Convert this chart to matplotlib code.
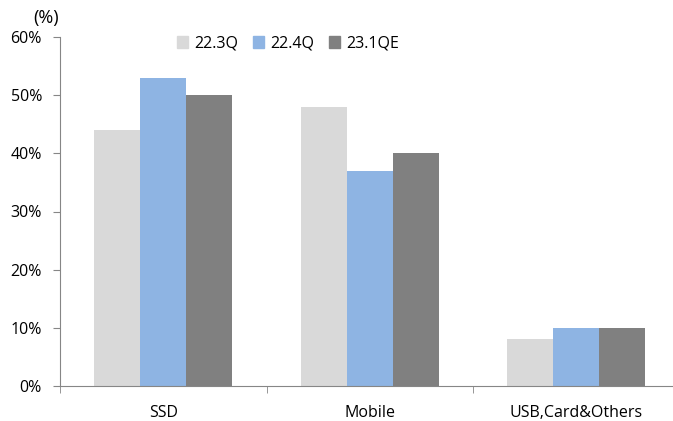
import numpy as np
import matplotlib
matplotlib.use("Agg")
from matplotlib import pyplot as plt
from matplotlib.patches import Patch

categories = ["SSD", "Mobile", "USB,Card&Others"]
series_names = ["22.3Q", "22.4Q", "23.1QE"]
q22_3 = [44, 48, 8]
q22_4 = [53, 37, 10]
q23_1e = [50, 40, 10]
yticks = [0, 10, 20, 30, 40, 50, 60]

colors = ["#D9D9D9", "#8EB4E3", "#808080"]
axis_grey = "#868686"

plt.rcParams["font.family"] = ["Open Sans", "DejaVu Sans"]
fs = 11.5

W, H = 673, 421
fig = plt.figure(figsize=(W / 100, H / 100), dpi=100)
# axes runs a bit past the right edge of the picture, like the original
left, right, bottom, top = 60, 679.5, 386, 37
ax = fig.add_axes([left / W, 1 - bottom / H, (right - left) / W, (bottom - top) / H])

ind = np.arange(len(categories))
w = 0.222
for i, vals in enumerate([q22_3, q22_4, q23_1e]):
    ax.bar(ind + (i - 1) * w, vals, w, color=colors[i], label=series_names[i])

ax.set_xlim(-0.5, len(categories) - 0.5)
ax.set_ylim(0, 60)
ax.set_yticks(yticks)
ax.set_yticklabels(["{}%".format(v) for v in yticks])

ax.set_xticks(ind)
ax.set_xticklabels(categories)
ax.set_xticks(np.arange(len(categories) + 1) - 0.5, minor=True)
ax.tick_params(axis="x", which="major", length=0, pad=14, labelsize=fs)
ax.tick_params(axis="x", which="minor", length=5, color=axis_grey, direction="out")
ax.tick_params(axis="y", length=5, color=axis_grey, pad=8, labelsize=fs)

for s in ["top", "right"]:
    ax.spines[s].set_visible(False)
for s in ["left", "bottom"]:
    ax.spines[s].set_color(axis_grey)

fig.text(46 / W, 1 - 18 / H, "(%)", ha="center", va="center", fontsize=13)

handles = [Patch(color=c) for c in colors]
fig.legend(handles, series_names, loc="center", ncol=3, frameon=False,
           bbox_to_anchor=(288 / W, 1 - 43.5 / H), fontsize=fs,
           handlelength=0.7, handleheight=0.7, handletextpad=0.4,
           columnspacing=0.9, borderpad=0)

fig.savefig("out.png", dpi=100)
